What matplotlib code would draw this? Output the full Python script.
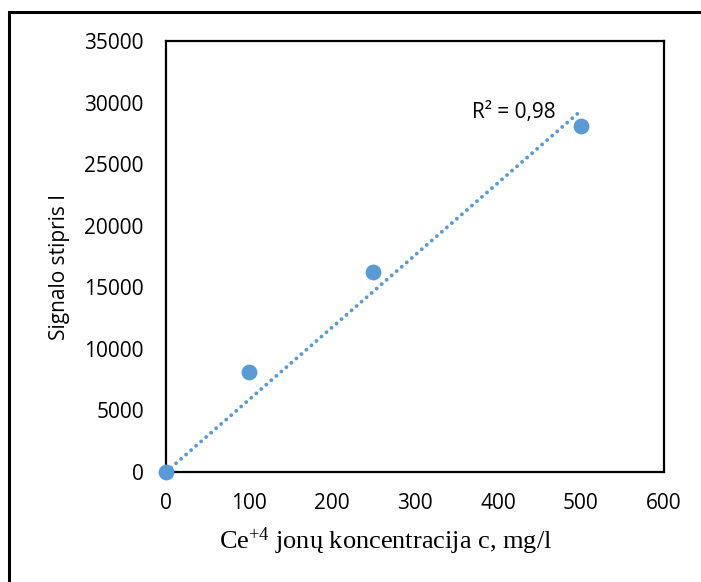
import matplotlib
matplotlib.use("Agg")
import matplotlib.pyplot as plt
import numpy as np
from matplotlib.patches import Rectangle

concentration = [0, 100, 250, 500]
signal = [0, 8150, 16250, 28100]
x_ticks = [0, 100, 200, 300, 400, 500, 600]
y_ticks = [0, 5000, 10000, 15000, 20000, 25000, 30000, 35000]
r2_label = "R² = 0,98"

plt.rcParams["mathtext.fontset"] = "custom"
plt.rcParams["mathtext.rm"] = "Liberation Serif"
plt.rcParams["mathtext.it"] = "Liberation Serif:italic"
plt.rcParams["mathtext.bf"] = "Liberation Serif:bold"

color = "#5B9BD5"
tick_font = "Open Sans"

W, H = 701, 582
fig = plt.figure(figsize=(W / 100, H / 100), dpi=100)
ax = fig.add_axes([0.2368, 0.189, 0.7104, 0.7406])

x = np.array(concentration, dtype=float)
y = np.array(signal, dtype=float)
slope = np.sum(x * y) / np.sum(x * x)
xs = np.linspace(0, x.max(), 50)
ax.plot(xs, slope * xs, linestyle=(0, (0.01, 1.7)), color=color, lw=2.8,
        dash_capstyle="round", zorder=2)
ax.scatter(x, y, s=130, color=color, zorder=3, clip_on=False, linewidths=0)

ax.set_xlim(0, 600)
ax.set_ylim(0, 35000)
ax.set_xticks(x_ticks)
ax.set_yticks(y_ticks)
ax.set_xticklabels([str(v) for v in x_ticks], fontfamily=tick_font, fontsize=15)
ax.set_yticklabels([str(v) for v in y_ticks], fontfamily=tick_font, fontsize=15)
ax.tick_params(axis="y", length=0, pad=16)
ax.tick_params(axis="x", length=0, pad=15)
for s in ax.spines.values():
    s.set_linewidth(1.6)
    s.set_color("black")

fig.text(60 / W, 1 - 267 / H, "Signalo stipris I", fontfamily=tick_font, fontsize=15,
         rotation=90, ha="center", va="center")
fig.text(386 / W, 1 - 549 / H, r"Ce$^{\mathrm{+4}}$ jonų koncentracija c, mg/l",
         fontfamily="Liberation Serif", fontsize=19, ha="center", va="baseline")

ax.text(0.699, 0.833, r2_label, transform=ax.transAxes, fontfamily=tick_font,
        fontsize=15, ha="center", va="center")

fig.add_artist(Rectangle((9 / W, -0.1), 1.2, 1 - 12 / H + 0.1,
                         transform=fig.transFigure, fill=False, lw=2.2,
                         edgecolor="black"))

fig.savefig("out.png", dpi=100)
